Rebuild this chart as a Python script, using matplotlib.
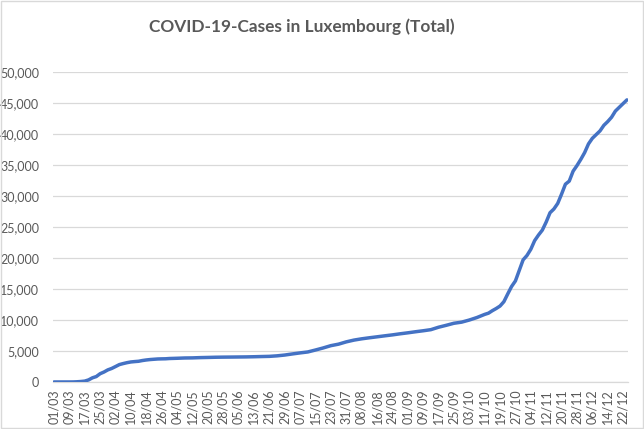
import matplotlib
matplotlib.use("Agg")
import matplotlib.pyplot as plt
import matplotlib.dates as mdates
from matplotlib.patches import Rectangle
from matplotlib.ticker import FuncFormatter
import pandas as pd

dates = ["01/03", "05/03", "09/03", "11/03", "13/03", "15/03", "17/03", "19/03", "21/03", "23/03",
         "25/03", "27/03", "29/03", "31/03", "02/04", "04/04", "06/04", "08/04", "10/04", "12/04",
         "14/04", "16/04", "18/04", "20/04", "22/04", "24/04", "26/04", "28/04", "30/04", "04/05",
         "08/05", "12/05", "16/05", "20/05", "24/05", "28/05", "01/06", "05/06", "09/06", "13/06",
         "17/06", "21/06", "25/06", "29/06", "03/07", "07/07", "11/07", "15/07", "19/07", "23/07",
         "27/07", "31/07", "04/08", "08/08", "12/08", "16/08", "20/08", "24/08", "28/08", "01/09",
         "05/09", "09/09", "13/09", "17/09", "21/09", "25/09", "29/09", "03/10", "07/10", "11/10",
         "13/10", "15/10", "17/10", "19/10", "21/10", "23/10", "25/10", "27/10", "29/10", "31/10",
         "02/11", "04/11", "06/11", "08/11", "10/11", "12/11", "14/11", "16/11", "18/11", "20/11",
         "22/11", "24/11", "26/11", "28/11", "30/11", "02/12", "04/12", "06/12", "08/12", "10/12",
         "12/12", "14/12", "16/12", "18/12", "20/12", "22/12", "24/12"]
cases = [1, 2, 3, 7, 34, 77, 140, 335, 670, 875,
         1333, 1605, 1950, 2178, 2487, 2804, 2970, 3115, 3230, 3290,
         3340, 3460, 3550, 3618, 3665, 3711, 3729, 3741, 3784, 3824,
         3871, 3886, 3930, 3958, 3990, 4008, 4019, 4032, 4046, 4072,
         4104, 4133, 4216, 4345, 4522, 4691, 4842, 5156, 5488, 5858,
         6100, 6468, 6754, 6960, 7128, 7284, 7443, 7596, 7770, 7928,
         8100, 8260, 8437, 8830, 9140, 9470, 9650, 9990, 10400, 10900,
         11100, 11500, 11850, 12250, 12950, 14200, 15400, 16300, 18000, 19700,
         20400, 21400, 22800, 23700, 24500, 25800, 27300, 27900, 28800, 30300,
         31900, 32400, 34000, 34900, 35900, 37000, 38400, 39300, 39900, 40500,
         41400, 42000, 42700, 43700, 44300, 44900, 45500]
year = 2020
title = "COVID-19-Cases in Luxembourg (Total)"
y_ticks = [0, 5000, 10000, 15000, 20000, 25000, 30000, 35000, 40000, 45000, 50000]

x = pd.to_datetime([f"{d}/{year}" for d in dates], format="%d/%m/%Y")

plt.rcParams['font.family'] = ['Lato', 'DejaVu Sans']
text_col = "#595959"
grid_col = "#D9D9D9"

fig = plt.figure(figsize=(6.44, 4.29), dpi=100)
fig.patches.append(Rectangle((0.0015, 0.0023), 0.997, 0.995, transform=fig.transFigure,
                             fill=False, edgecolor=grid_col, linewidth=1.0))
ax = fig.add_axes([0.0823, 0.1096, 0.8927, 0.7226])

ax.plot(x, cases, color="#4472C4", linewidth=2.5, solid_capstyle="round",
        solid_joinstyle="round", zorder=3)

start = x[0] - pd.Timedelta(hours=12)
end = x[-1] + pd.Timedelta(hours=12)
ax.set_xlim(start, end)
ax.set_ylim(0, 50000)
ax.set_yticks(y_ticks)
ax.yaxis.set_major_formatter(FuncFormatter(lambda v, p: f"{int(v):,}"))

ticks = pd.date_range(x[0], x[-1], freq="8D")
ax.set_xticks(ticks)
ax.xaxis.set_major_formatter(mdates.DateFormatter("%d/%m"))
for lab in ax.get_xticklabels():
    lab.set_rotation(90)

ax.grid(axis="y", color=grid_col, linewidth=0.9)
ax.set_axisbelow(True)
for s in ["top", "right", "left"]:
    ax.spines[s].set_visible(False)
ax.spines["bottom"].set_color(grid_col)
ax.spines["bottom"].set_linewidth(0.9)
ax.tick_params(axis="both", length=0, colors=text_col, labelsize=9)
ax.tick_params(axis="y", pad=10)
ax.tick_params(axis="x", pad=5)

fig.text(0.469, 0.937, title, ha="center", va="center", fontsize=12.4,
         fontweight="bold", color=text_col)

fig.savefig("out.png", dpi=100)
